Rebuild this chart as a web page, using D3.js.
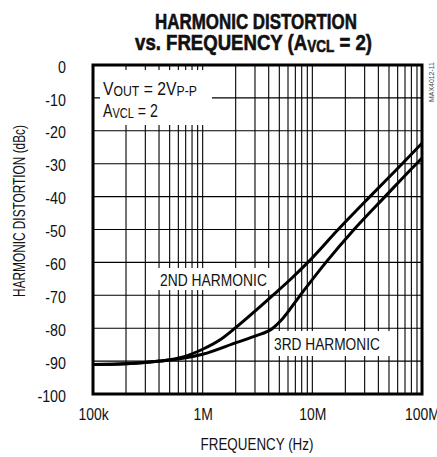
<!DOCTYPE html>
<html><head><meta charset="utf-8">
<script src="https://cdn.jsdelivr.net/npm/d3@7"></script>
<style>
html,body{margin:0;padding:0;background:#fff;}
svg{display:block;}
text{font-family:"Liberation Sans",Arial,sans-serif;fill:#111;}
</style></head>
<body>
<svg id="c" width="437" height="457"></svg>
<script>
// Data (frequency in Hz, distortion in dBc)
const harmonic2 = [[1e5,-91],[2e5,-90.8],[4.08e5,-90],[6.2e5,-89],[1e6,-86.4],[1.43e6,-83.6],[1.97e6,-80],[3e6,-74.8],[4.36e6,-70],[6.3e6,-65.2],[9.1e6,-60],[1.72e7,-50],[3.35e7,-40],[6.6e7,-30],[1e8,-23.8]];
const harmonic3 = [[1e5,-91],[2e5,-90.8],[4.08e5,-90],[6.2e5,-89.3],[1e6,-87.9],[2.05e6,-84.3],[3e6,-82.4],[4.36e6,-80],[5.2e6,-77.6],[7.75e6,-70],[1.33e7,-60],[2.4e7,-50],[4.6e7,-40],[8.9e7,-30],[1e8,-28.3]];
const yTicks = [0,-10,-20,-30,-40,-50,-60,-70,-80,-90,-100];
const xTicks = [1e5,1e6,1e7,1e8];
const xTickLabels = ["100k","1M","10M","100M"];
const xMinor = [];
[1e5,1e6,1e7].forEach(d=>{for(let k=1;k<10;k++) xMinor.push(d*k);});
xMinor.push(1e8);

const svg = d3.select("#c");
const L=93,R=422,T=65,B=394;
const x = d3.scaleLog().domain([1e5,1e8]).range([L,R]);
const y = d3.scaleLinear().domain([-100,0]).range([B,T]);

// condensed text helper: Liberation Sans squeezed horizontally
function ntext(parent, px, py, anchor, size, weight, build, opt){
  const g = parent.append("g");
  const t = g.append("text").attr("text-anchor",anchor).attr("font-size",size)
    .attr("font-weight",weight||"normal");
  build(t);
  let s = 0.82;
  if(opt && opt.width){ s = opt.width / t.node().getComputedTextLength(); }
  else if(opt && opt.scale){ s = opt.scale; }
  g.attr("transform",`translate(${px},${py}) scale(${s},1)`);
  return t;
}

// grid
const g = svg.append("g");
g.selectAll("line.v").data(xMinor).enter().append("line")
  .attr("x1",d=>x(d)).attr("x2",d=>x(d)).attr("y1",T).attr("y2",B)
  .attr("stroke","#000").attr("stroke-width",1.1);
g.selectAll("line.h").data(yTicks).enter().append("line")
  .attr("x1",L).attr("x2",R).attr("y1",d=>y(d)).attr("y2",d=>y(d))
  .attr("stroke","#000").attr("stroke-width",1.1);

// white label boxes hiding the grid
svg.append("rect").attr("x",100).attr("y",70).attr("width",112).attr("height",55).attr("fill","#fff");
svg.append("rect").attr("x",155).attr("y",268).attr("width",117).attr("height",22).attr("fill","#fff");
svg.append("rect").attr("x",270).attr("y",331).attr("width",122).attr("height",25).attr("fill","#fff");

// curves
const line = d3.line().x(d=>x(d[0])).y(d=>y(d[1])).curve(d3.curveMonotoneX);
[harmonic2,harmonic3].forEach(s=>{
  svg.append("path").attr("d",line(s)).attr("fill","none").attr("stroke","#000")
    .attr("stroke-width",3).attr("stroke-linejoin","round");
});

// frame
svg.append("rect").attr("x",L).attr("y",T).attr("width",R-L).attr("height",B-T)
  .attr("fill","none").attr("stroke","#000").attr("stroke-width",3);

// y axis tick labels
const ya = svg.append("g").attr("transform",`translate(66,0)`)
  .call(d3.axisLeft(y).tickValues(yTicks).tickSize(0).tickFormat(d=>d===0?"0":"-"+Math.abs(d)));
ya.select(".domain").remove();
ya.selectAll("text").attr("x",0).attr("font-size",17).attr("dy","0.42em")
  .attr("transform","scale(0.84,1)")
  .style("font-family",'"Liberation Sans",Arial,sans-serif').attr("fill","#111");

// x axis tick labels
const xa = svg.append("g").attr("transform",`translate(0,${B+14})`)
  .call(d3.axisBottom(x).tickValues(xTicks).tickSize(0).tickFormat((d,i)=>xTickLabels[i]));
xa.select(".domain").remove();
xa.selectAll("text").attr("y",0).attr("font-size",17).attr("dy","0.71em")
  .attr("transform","scale(0.82,1)")
  .style("font-family",'"Liberation Sans",Arial,sans-serif').attr("fill","#111");

// axis titles
ntext(svg,257,450,"middle",16,"normal",t=>t.text("FREQUENCY (Hz)"),{width:113});
const yt = svg.append("g").attr("transform","translate(25,211) rotate(-90)");
ntext(yt,0,0,"middle",16,"normal",t=>t.text("HARMONIC DISTORTION (dBc)"),{width:172});

// title
ntext(svg,256,29,"middle",22,"bold",t=>t.text("HARMONIC DISTORTION"),{width:202})
  .attr("stroke","#111").attr("stroke-width",0.6);
ntext(svg,253.5,50,"middle",22,"bold",t=>{
  t.append("tspan").text("vs. FREQUENCY (A");
  t.append("tspan").attr("font-size",16).attr("dy",2).text("VCL");
  t.append("tspan").attr("dy",-2).text(" = 2)");
},{width:237}).attr("stroke","#111").attr("stroke-width",0.6);

// annotations
ntext(svg,103,95,"start",18,"normal",t=>{
  t.append("tspan").text("V");
  t.append("tspan").attr("font-size",14).attr("dy",1).text("OUT");
  t.append("tspan").attr("dy",-1).text(" = 2V");
  t.append("tspan").attr("font-size",14).attr("dy",1).text("P-P");
},{width:94});
ntext(svg,103,117,"start",18,"normal",t=>{
  t.append("tspan").text("A");
  t.append("tspan").attr("font-size",14).attr("dy",1).text("VCL");
  t.append("tspan").attr("dy",-1).text(" = 2");
},{width:55});

ntext(svg,160,286,"start",17,"normal",t=>t.text("2ND HARMONIC"),{width:107});
ntext(svg,274,350,"start",17,"normal",t=>t.text("3RD HARMONIC"),{width:106});

const mx = svg.append("g").attr("transform","translate(434,82) rotate(-90)");
ntext(mx,0,0,"middle",8,"normal",t=>t.attr("fill","#444").style("fill","#444").text("MAX4012-11"),{width:40});
</script>
</body></html>
